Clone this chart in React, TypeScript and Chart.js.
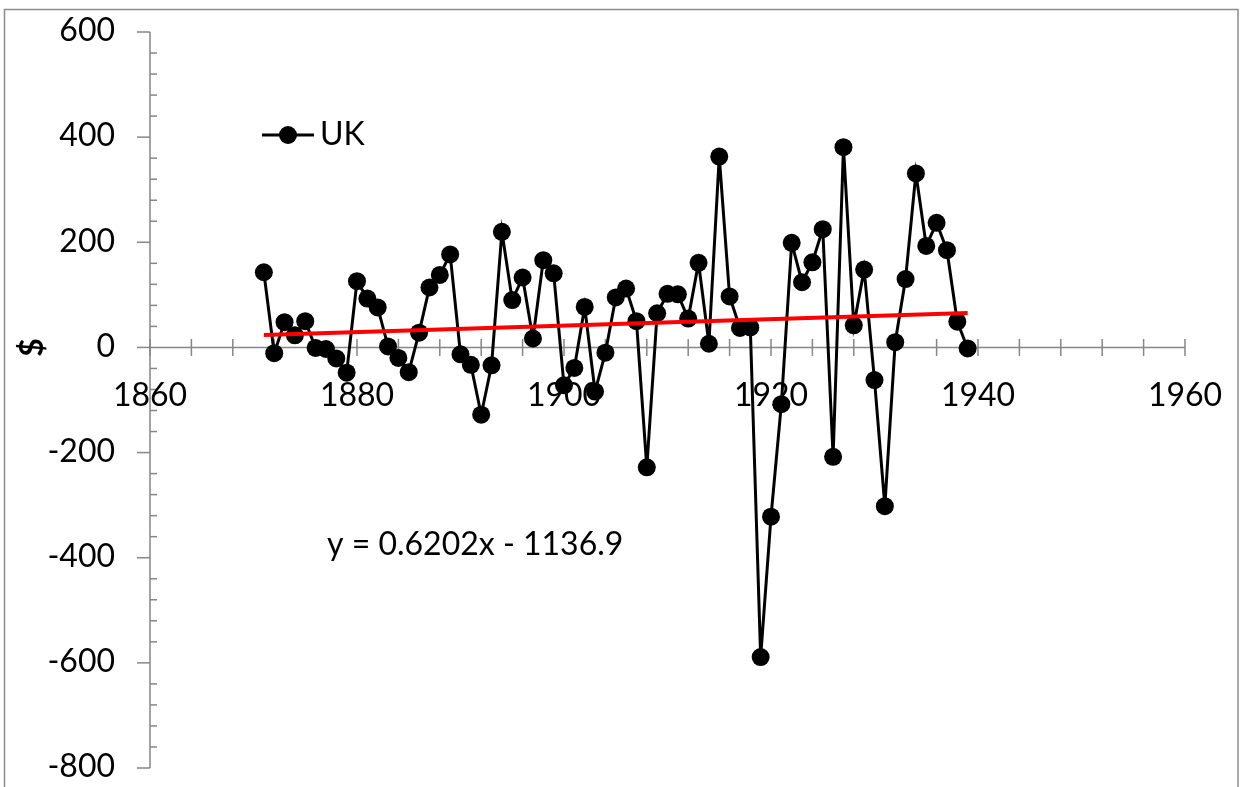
import React, { useEffect, useRef } from 'react';
import { Chart, registerables } from 'chart.js';

Chart.register(...registerables);

const YEARS = [
  1871, 1872, 1873, 1874, 1875, 1876, 1877, 1878, 1879, 1880,
  1881, 1882, 1883, 1884, 1885, 1886, 1887, 1888, 1889, 1890,
  1891, 1892, 1893, 1894, 1895, 1896, 1897, 1898, 1899, 1900,
  1901, 1902, 1903, 1904, 1905, 1906, 1907, 1908, 1909, 1910,
  1911, 1912, 1913, 1914, 1915, 1916, 1917, 1918, 1919, 1920,
  1921, 1922, 1923, 1924, 1925, 1926, 1927, 1928, 1929, 1930,
  1931, 1932, 1933, 1934, 1935, 1936, 1937, 1938, 1939,
];

const UK = [
  143, -11, 48, 23, 50, -1, -3, -21, -48, 126,
  93, 76, 2, -20, -47, 28, 114, 138, 177, -13,
  -33, -128, -34, 220, 90, 133, 17, 166, 141, -72,
  -39, 77, -84, -10, 95, 112, 50, -228, 65, 102,
  101, 55, 161, 7, 363, 97, 37, 38, -589, -322,
  -108, 199, 124, 162, 225, -208, 381, 42, 148, -62,
  -302, 10, 130, 331, 193, 237, 185, 49, -2,
];

const TREND_YEARS = [1871, 1939];
const TREND_VALUES = [23.5, 65.7];

const X_TICKS = [1860, 1880, 1900, 1920, 1940, 1960];
const Y_TICKS = [600, 400, 200, 0, -200, -400, -600, -800];

const SERIES_NAME = 'UK';
const EQUATION = 'y = 0.6202x - 1136.9';
const Y_TITLE = '$';

const FONT = '32px Lato, "Open Sans", sans-serif';
const AXIS_COLOR = '#868686';

function line(ctx: CanvasRenderingContext2D, x1: number, y1: number, x2: number, y2: number) {
  ctx.beginPath();
  ctx.moveTo(x1, y1);
  ctx.lineTo(x2, y2);
  ctx.stroke();
}

const axesPlugin = {
  id: 'excelAxes',
  beforeDatasetsDraw(chart: any) {
    const ctx: CanvasRenderingContext2D = chart.ctx;
    const xs = chart.scales.x;
    const ys = chart.scales.y;
    const xMin = X_TICKS[0];
    const xMax = X_TICKS[X_TICKS.length - 1];
    const yMax = Y_TICKS[0];
    const yMin = Y_TICKS[Y_TICKS.length - 1];
    const x0 = xs.getPixelForValue(xMin);
    const x1 = xs.getPixelForValue(xMax);
    const yTop = ys.getPixelForValue(yMax);
    const yBot = ys.getPixelForValue(yMin);
    const yZero = ys.getPixelForValue(0);

    ctx.save();
    // chart border
    ctx.strokeStyle = '#8c8c8c';
    ctx.lineWidth = 1.5;
    ctx.strokeRect(4.5, 9.5, 1233.5, 800);

    ctx.strokeStyle = AXIS_COLOR;
    ctx.lineWidth = 1.5;
    // y axis
    line(ctx, x0, yTop, x0, yBot);
    for (let v = yMin; v <= yMax; v += 40) {
      const py = ys.getPixelForValue(v);
      if (v % 200 === 0) line(ctx, x0 - 13, py, x0, py);
      else line(ctx, x0, py, x0 + 7, py);
    }
    // x axis at y = 0
    line(ctx, x0, yZero, x1, yZero);
    for (let yr = xMin; yr <= xMax; yr += 4) {
      const px = xs.getPixelForValue(yr);
      line(ctx, px, yZero - 8.5, px, yZero + 8.5);
    }

    // labels
    ctx.fillStyle = '#000';
    ctx.font = FONT;
    ctx.textBaseline = 'middle';
    ctx.textAlign = 'right';
    for (const v of Y_TICKS) {
      ctx.fillText(String(v), 115, ys.getPixelForValue(v) - 1);
    }
    ctx.textAlign = 'center';
    for (const t of X_TICKS) {
      ctx.fillText(String(t), xs.getPixelForValue(t), yZero + 48);
    }

    // y title
    ctx.save();
    ctx.translate(33, yZero);
    ctx.rotate(-Math.PI / 2);
    ctx.font = 'bold 32px Lato, "Open Sans", sans-serif';
    ctx.textAlign = 'center';
    ctx.textBaseline = 'middle';
    ctx.fillText(Y_TITLE, 0, 0);
    ctx.restore();

    ctx.restore();
  },
  afterDatasetsDraw(chart: any) {
    const ctx: CanvasRenderingContext2D = chart.ctx;
    ctx.save();
    // legend
    ctx.strokeStyle = '#000';
    ctx.lineWidth = 3;
    line(ctx, 262, 135, 314, 135);
    ctx.fillStyle = '#000';
    ctx.beginPath();
    ctx.arc(288, 135, 9, 0, Math.PI * 2);
    ctx.fill();
    ctx.font = FONT;
    ctx.textAlign = 'left';
    ctx.textBaseline = 'middle';
    ctx.fillText(SERIES_NAME, 320, 135);
    // trendline equation
    ctx.fillText(EQUATION, 327, 545);
    ctx.restore();
  },
};

export default function App() {
  const canvasRef = useRef<HTMLCanvasElement | null>(null);

  useEffect(() => {
    const canvas = canvasRef.current;
    if (!canvas) return;
    const chart = new Chart(canvas, {
      type: 'scatter',
      data: {
        datasets: [
          {
            label: 'Trend',
            data: TREND_YEARS.map((x, i) => ({ x, y: TREND_VALUES[i] })),
            showLine: true,
            borderColor: '#ff0000',
            borderWidth: 4,
            pointRadius: 0,
            order: 0,
          },
          {
            label: SERIES_NAME,
            data: YEARS.map((x, i) => ({ x, y: UK[i] })),
            showLine: true,
            borderColor: '#000000',
            borderWidth: 3,
            pointRadius: 9,
            pointBackgroundColor: '#000000',
            pointBorderWidth: 0,
            tension: 0,
            order: 1,
          },
        ],
      },
      options: {
        responsive: false,
        maintainAspectRatio: false,
        animation: false,
        layout: { padding: { left: 150, top: 32, right: 55, bottom: 19 } },
        scales: {
          x: { type: 'linear', min: X_TICKS[0], max: X_TICKS[X_TICKS.length - 1], display: false },
          y: { type: 'linear', min: Y_TICKS[Y_TICKS.length - 1], max: Y_TICKS[0], display: false },
        },
        plugins: {
          legend: { display: false },
          tooltip: { enabled: false },
        },
      },
      plugins: [axesPlugin],
    });
    return () => chart.destroy();
  }, []);

  return (
    <div style={{ position: 'fixed', left: 0, top: 0, width: 1240, height: 787, background: '#fff' }}>
      <canvas ref={canvasRef} width={1240} height={787} style={{ width: 1240, height: 787, display: 'block' }} />
    </div>
  );
}
